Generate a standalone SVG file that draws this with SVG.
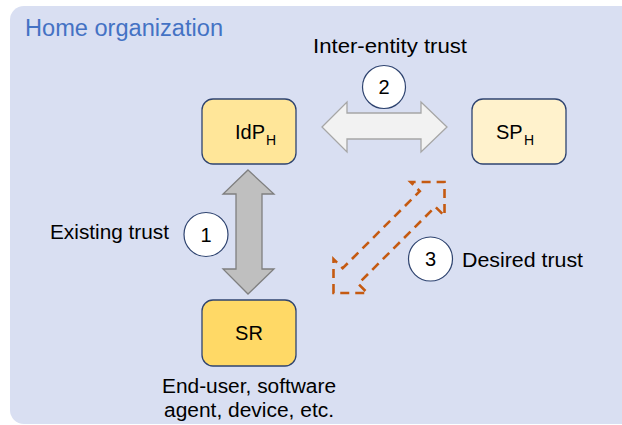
<svg xmlns="http://www.w3.org/2000/svg" width="622" height="425" viewBox="0 0 622 425">
<style>
  text { font-family: "Liberation Sans", Arial, sans-serif; fill: #000; }
  .lbl { font-size: 20px; }
  .nl { font-size: 20px; }
  .node { stroke: #2f4470; stroke-width: 1.3; }
  .num { fill: #fff; stroke: #2f4470; stroke-width: 1.2; }
  .numt { font-size: 20px; text-anchor: middle; }
  .sub { font-size: 14px; }
</style>
<rect x="0" y="0" width="622" height="425" fill="#ffffff"/>
<rect id="home-org" x="10" y="6" width="640" height="418" rx="14" ry="14" fill="#d9dff2"/>
<text x="25" y="36" font-size="23.5" style="fill:#4472c4" textLength="198" lengthAdjust="spacingAndGlyphs">Home organization</text>

<g id="connectors">
  <polygon id="inter-entity" points="322,127 347,102 347,113 421,113 421,102 447,127 421,152 421,139 347,139 347,152" fill="#f2f2f2" stroke="#a6a6a6" stroke-width="1.3"/>
  <polygon id="existing" points="248,170 274,194 262,194 262,269 274,269 248,294 223,269 236,269 236,194 223,194" fill="#bfbfbf" stroke="#7f7f7f" stroke-width="1.3"/>
  <polygon id="desired" transform="translate(389,237.5) rotate(-45)" points="-78.5,0 -54.5,-24 -54.5,-11 54.5,-11 54.5,-24 78.5,0 54.5,24 54.5,11 -54.5,11 -54.5,24" fill="none" stroke="#c55a11" stroke-width="2.6" stroke-dasharray="9 6"/>
</g>

<g id="idp">
  <rect class="node" x="202" y="99" width="94" height="65" rx="11" fill="#ffe699"/>
  <text class="nl" x="235" y="139">IdP</text>
  <text class="sub" x="266" y="145">H</text>
</g>
<g id="sp">
  <rect class="node" x="472" y="99" width="94" height="65" rx="11" fill="#fff2cc"/>
  <text class="nl" x="496" y="139">SP</text>
  <text class="sub" x="524" y="145">H</text>
</g>
<g id="sr">
  <rect class="node" x="202" y="300" width="94" height="66" rx="11" fill="#ffd966"/>
  <text class="nl" x="249" y="340" text-anchor="middle">SR</text>
</g>

<g id="label-1">
  <circle class="num" cx="206" cy="234.5" r="22"/>
  <text class="numt" x="206" y="241.5">1</text>
  <text class="lbl" x="50" y="239" textLength="119" lengthAdjust="spacingAndGlyphs">Existing trust</text>
</g>
<g id="label-2">
  <circle class="num" cx="384" cy="87" r="21.5"/>
  <text class="numt" x="384" y="94">2</text>
  <text class="lbl" x="313" y="53" textLength="154" lengthAdjust="spacingAndGlyphs">Inter-entity trust</text>
</g>
<g id="label-3">
  <circle class="num" cx="430.5" cy="259" r="22"/>
  <text class="numt" x="430.5" y="266">3</text>
  <text class="lbl" x="462" y="267" textLength="121" lengthAdjust="spacingAndGlyphs">Desired trust</text>
</g>
<g id="sr-caption">
  <text class="lbl" x="249" y="393" text-anchor="middle" textLength="174" lengthAdjust="spacingAndGlyphs">End-user, software</text>
  <text class="lbl" x="249" y="417" text-anchor="middle" textLength="170" lengthAdjust="spacingAndGlyphs">agent, device, etc.</text>
</g>
</svg>
